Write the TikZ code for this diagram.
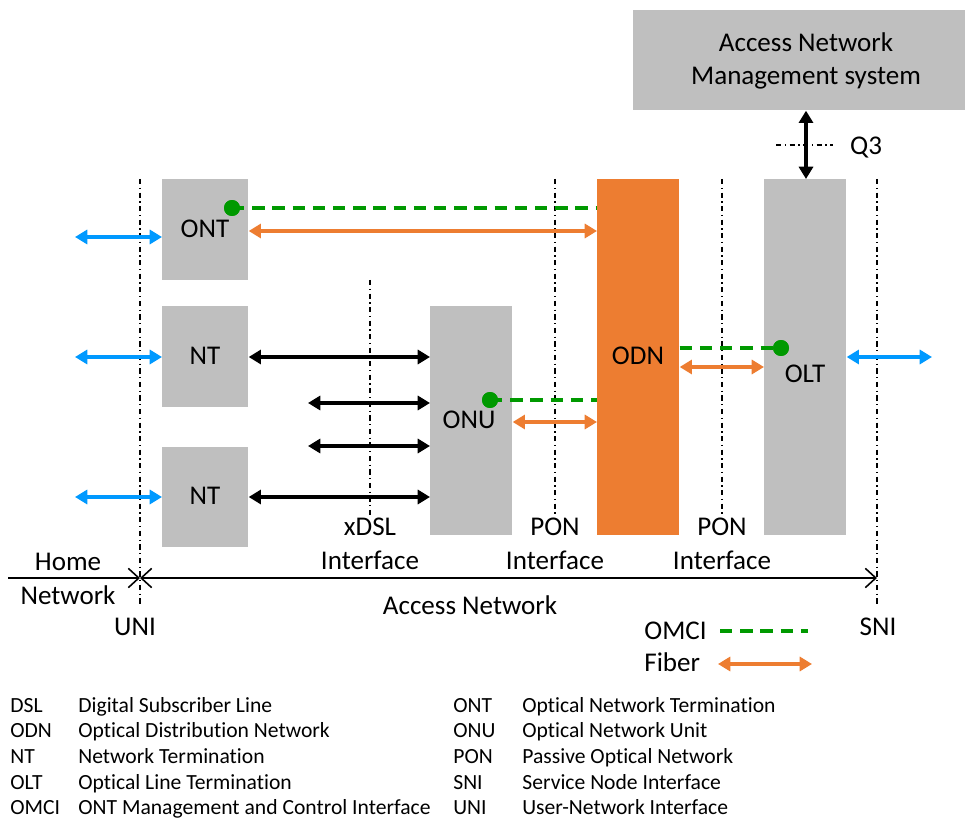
\documentclass[tikz,border=0pt]{standalone}
\usepackage{fontspec}
\setmainfont{Carlito}[Ligatures=NoCommon]
\usetikzlibrary{arrows.meta}
\definecolor{boxgray}{RGB}{191,191,191}
\definecolor{odnorange}{RGB}{237,125,49}
\definecolor{omcigreen}{RGB}{0,153,0}
\definecolor{lineblue}{RGB}{0,153,255}
\begin{document}
\begin{tikzpicture}[x=0.02cm,y=-0.02cm,
  box/.style={fill=boxgray, draw=none, inner sep=0, anchor=north west},
  lbl/.style={font=\fontsize{15.4}{18}\selectfont, inner sep=0, text height=0.66em, text depth=0.2em, yshift=-2.2pt},
  leg/.style={font=\fontsize{12.3}{14}\selectfont, inner sep=0, anchor=west, text height=0.66em, text depth=0.2em, yshift=-1.6pt},
  ifline/.style={black, line width=0.8pt, dash pattern=on 3pt off 2pt on 0.7pt off 2pt},
  omci/.style={omcigreen, line width=2.2pt, dash pattern=on 7pt off 4.5pt},
  fiber/.style={odnorange, line width=2pt, {Triangle[length=7pt,width=8pt]}-{Triangle[length=7pt,width=8pt]}},
  blk/.style={black, line width=2pt, {Triangle[length=7pt,width=8pt]}-{Triangle[length=7pt,width=8pt]}},
  blu/.style={lineblue, line width=2pt, {Triangle[length=7pt,width=8pt]}-{Triangle[length=7pt,width=8pt]}},
  dot/.style={circle, fill=omcigreen, inner sep=0, minimum size=0.32cm},
  thinarr/.style={black, line width=0.9pt}
]
\useasboundingbox (0,0) rectangle (965,821);

% boxes
\node[box, minimum width=6.64cm, minimum height=2.0cm] (anm) at (633,10) {};
\node[box, minimum width=1.72cm, minimum height=2.02cm] (ont) at (162,179) {};
\node[box, minimum width=1.72cm, minimum height=2.02cm] (nta) at (162,306) {};
\node[box, minimum width=1.72cm, minimum height=2.0cm] (ntb) at (162,447) {};
\node[box, minimum width=1.64cm, minimum height=4.58cm] (onu) at (430,306) {};
\node[box, fill=odnorange, minimum width=1.64cm, minimum height=7.12cm] (odn) at (597,179) {};
\node[box, minimum width=1.64cm, minimum height=7.12cm] (olt) at (764,179) {};

% box labels
\node[lbl] at (806,44) {Access Network};
\node[lbl] at (806,77) {Management system};
\node[lbl] at (205,230) {ONT};
\node[lbl] at (205,357) {NT};
\node[lbl] at (205,497) {NT};
\node[lbl] at (469,421) {ONU};
\node[lbl] at (638,357) {ODN};
\node[lbl] at (805,375) {OLT};

% interface lines
\draw[ifline] (140,179) -- (140,605);
\draw[ifline] (877,179) -- (877,605);
\draw[ifline] (370,280) -- (370,515);
\draw[ifline] (555,179) -- (555,515);
\draw[ifline] (722,179) -- (722,515);
\draw[ifline] (776,145) -- (833,145);

% y-level coordinates
\coordinate (y208) at (0,208);
\coordinate (y231) at (0,231);
\coordinate (y237) at (0,237);
\coordinate (y348) at (0,348);
\coordinate (y357) at (0,357);
\coordinate (y367) at (0,367);
\coordinate (y400) at (0,400);
\coordinate (y403) at (0,403);
\coordinate (y422) at (0,422);
\coordinate (y446) at (0,446);
\coordinate (y497) at (0,497);

% Q3
\draw[blk] (anm.south -| 806,0) -- (olt.north -| 806,0);
\node[lbl] at (866,147) {Q3};

% free ends
\coordinate (b1) at (75,237);
\coordinate (b2) at (75,357);
\coordinate (b3) at (75,497);
\coordinate (b4) at (932,357);
\coordinate (k1) at (308,403);
\coordinate (k2) at (308,446);

% blue arrows
\draw[blu] (b1) -- (ont.west |- y237);
\draw[blu] (b2) -- (nta.west |- y357);
\draw[blu] (b3) -- (ntb.west |- y497);
\draw[blu] (olt.east |- y357) -- (b4);

% black xDSL arrows
\draw[blk] (nta.east |- y357) -- (onu.west |- y357);
\draw[blk] (k1) -- (onu.west |- y403);
\draw[blk] (k2) -- (onu.west |- y446);
\draw[blk] (ntb.east |- y497) -- (onu.west |- y497);

% OMCI and fiber
\node[dot] (d1) at (232,208) {};
\draw[omci] (d1.center) -- (odn.west |- y208);
\draw[fiber] (ont.east |- y231) -- (odn.west |- y231);
\node[dot] (d2) at (490,400) {};
\draw[omci] (d2.center) -- (odn.west |- y400);
\draw[fiber] (onu.east |- y422) -- (odn.west |- y422);
\node[dot] (d3) at (781,348) {};
\draw[omci] (odn.east |- y348) -- (d3.center);
\draw[fiber] (odn.east |- y367) -- (olt.west |- y367);
\node[dot] at (781,348) {};
\node[dot] at (232,208) {};
\node[dot] at (490,400) {};

% interface labels
\node[lbl] at (370,528) {xDSL};
\node[lbl] at (370,562) {Interface};
\node[lbl] at (555,528) {PON};
\node[lbl] at (555,562) {Interface};
\node[lbl] at (722,528) {PON};
\node[lbl] at (722,562) {Interface};

% network span arrows
\coordinate (hl) at (8,578);
\coordinate (um) at (140,578);
\coordinate (sm) at (877,578);
\draw[thinarr, -{Straight Barb[length=6pt,width=11pt]}] (hl) -- (um);
\draw[thinarr, {Straight Barb[length=6pt,width=11pt]}-{Straight Barb[length=6pt,width=11pt]}] (um) -- (sm);
\node[lbl] at (68,563) {Home};
\node[lbl] at (68,597) {Network};
\node[lbl] at (470,607) {Access Network};
\node[lbl] at (135,628) {UNI};
\node[lbl] at (878,628) {SNI};

% legend
\node[lbl, anchor=east] (omcit) at (707,632) {OMCI};
\coordinate (o2) at (808,631);
\draw[omci] (720,631) -- (o2);
\node[lbl, anchor=west] (fibt) at (644,664) {Fiber};
\coordinate (f1) at (718,664);
\coordinate (f2) at (812,664);
\draw[fiber] (f1) -- (f2);

% abbreviations
\node[leg] at (10,706) {DSL};
\node[leg] at (78,706) {Digital Subscriber Line};
\node[leg] at (10,731) {ODN};
\node[leg] at (78,731) {Optical Distribution Network};
\node[leg] at (10,757) {NT};
\node[leg] at (78,757) {Network Termination};
\node[leg] at (10,783) {OLT};
\node[leg] at (78,783) {Optical Line Termination};
\node[leg] at (10,808) {OMCI};
\node[leg] at (78,808) {ONT Management and Control Interface};
\node[leg] at (453,706) {ONT};
\node[leg] at (522,706) {Optical Network Termination};
\node[leg] at (453,731) {ONU};
\node[leg] at (522,731) {Optical Network Unit};
\node[leg] at (453,757) {PON};
\node[leg] at (522,757) {Passive Optical Network};
\node[leg] at (453,783) {SNI};
\node[leg] at (522,783) {Service Node Interface};
\node[leg] at (453,808) {UNI};
\node[leg] at (522,808) {User-Network Interface};
\end{tikzpicture}
\end{document}
